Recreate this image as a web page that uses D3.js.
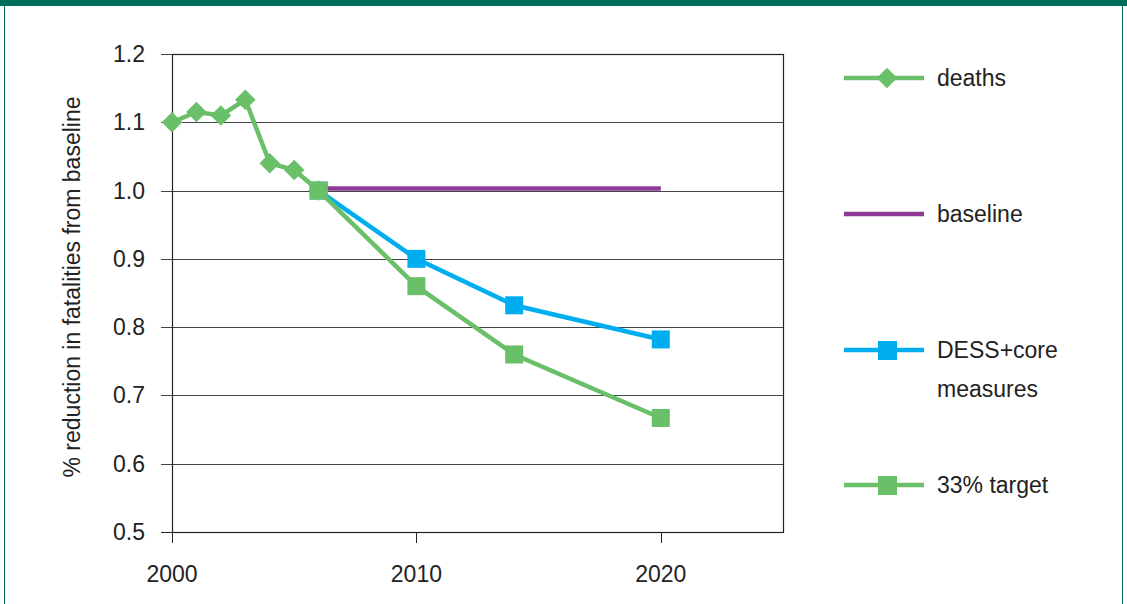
<!DOCTYPE html>
<html><head><meta charset="utf-8">
<script src="https://cdn.jsdelivr.net/npm/d3@7"></script>
<style>body{margin:0;background:#fff}text{font-family:"Liberation Sans",Arial,sans-serif;fill:#222}</style>
</head><body><svg id="c" width="1127" height="604"></svg>
<script>
const deathYears = [2000, 2001, 2002, 2003, 2004, 2005, 2006]
const deaths = [1.10, 1.115, 1.11, 1.133, 1.04, 1.03, 1.0]
const baselineYears = [2006, 2020]
const baseline = [1.003, 1.003]
const projYears = [2006, 2010, 2014, 2020]
const dess = [1.0, 0.9, 0.832, 0.782]
const target = [1.0, 0.86, 0.76, 0.667]
const yTicks = [0.5, 0.6, 0.7, 0.8, 0.9, 1.0, 1.1, 1.2]
const xTicks = [2000, 2010, 2020]

const green = '#6abf69', blue = '#00aeef', purple = '#8e3a96'
const fs = 23
const svg = d3.select('#c')
svg.append('rect').attr('x', 0).attr('y', 0).attr('width', 1127).attr('height', 6).attr('fill', '#006e5c')
svg.append('line').attr('x1', 4.5).attr('x2', 4.5).attr('y1', 6).attr('y2', 604).attr('stroke', '#006e5c')
svg.append('line').attr('x1', 1122.5).attr('x2', 1122.5).attr('y1', 6).attr('y2', 604).attr('stroke', '#006e5c')

const x = d3.scaleLinear().domain([2000, 2025]).range([172, 783])
const y = d3.scaleLinear().domain([0.5, 1.2]).range([532, 54])

// gridlines
svg.append('g').selectAll('line').data(yTicks.slice(1)).join('line')
  .attr('x1', 161).attr('x2', x(2025)).attr('y1', d => Math.round(y(d)) + 0.5).attr('y2', d => Math.round(y(d)) + 0.5)
  .attr('stroke', '#444').attr('stroke-width', 1.2)
svg.append('rect').attr('x', 172.5).attr('y', 54.5).attr('width', x(2025) - 172).attr('height', 532 - 54)
  .attr('fill', 'none').attr('stroke', '#222').attr('stroke-width', 1.2)
svg.append('line').attr('x1', 161).attr('x2', 172).attr('y1', 532.5).attr('y2', 532.5).attr('stroke', '#222')
svg.append('g').selectAll('text').data(yTicks).join('text')
  .attr('x', 145).attr('y', d => y(d) + 8).attr('text-anchor', 'end').attr('font-size', fs)
  .text(d => d.toFixed(1))
svg.append('g').selectAll('line').data(xTicks).join('line')
  .attr('x1', d => Math.round(x(d)) + 0.5).attr('x2', d => Math.round(x(d)) + 0.5).attr('y1', 532).attr('y2', 543).attr('stroke', '#222')
svg.append('g').selectAll('text').data(xTicks).join('text')
  .attr('x', d => x(d)).attr('y', 582).attr('text-anchor', 'middle').attr('font-size', fs).text(d => d)
svg.append('text').attr('transform', 'translate(80,287) rotate(-90)').attr('text-anchor', 'middle')
  .attr('font-size', fs).text('% reduction in fatalities from baseline')

const line = d3.line().x(d => x(d[0])).y(d => y(d[1]))
const zip = (a, b) => a.map((v, i) => [v, b[i]])
const diamond = d3.symbol(d3.symbolSquare, 210)
function series(pts, color, marker) {
  svg.append('path').attr('d', line(pts)).attr('fill', 'none').attr('stroke', color).attr('stroke-width', 4.5)
  if (marker === 'diamond') {
    svg.append('g').selectAll('path').data(pts).join('path')
      .attr('d', diamond).attr('transform', d => `translate(${x(d[0])},${y(d[1])}) rotate(45)`).attr('fill', color)
  } else if (marker === 'square') {
    svg.append('g').selectAll('rect').data(pts).join('rect')
      .attr('x', d => x(d[0]) - 9).attr('y', d => y(d[1]) - 9).attr('width', 18).attr('height', 18).attr('fill', color)
  }
}
series(zip(baselineYears, baseline), purple)
series(zip(projYears, dess), blue, 'square')
series(zip(projYears, target), green, 'square')
series(zip(deathYears, deaths), green, 'diamond')

// legend
const legend = [
  {label: ['deaths'], color: green, marker: 'diamond', y: 78},
  {label: ['baseline'], color: purple, y: 214},
  {label: ['DESS+core', 'measures'], color: blue, marker: 'square', y: 350},
  {label: ['33% target'], color: green, marker: 'square', y: 485}
]
const lg = svg.append('g').selectAll('g').data(legend).join('g').attr('transform', d => `translate(0,${d.y})`)
lg.append('line').attr('x1', 844).attr('x2', 924).attr('stroke', d => d.color).attr('stroke-width', 4.5)
lg.filter(d => d.marker === 'square').append('rect').attr('x', 878).attr('y', -9).attr('width', 19).attr('height', 19).attr('fill', d => d.color)
lg.filter(d => d.marker === 'diamond').append('path').attr('d', diamond)
  .attr('transform', 'translate(887,0) rotate(45)').attr('fill', d => d.color)
lg.each(function (d) {
  d3.select(this).selectAll('text').data(d.label).join('text')
    .attr('x', 937).attr('y', (t, i) => 8 + i * 39).attr('font-size', fs).text(t => t)
})
</script></body></html>
